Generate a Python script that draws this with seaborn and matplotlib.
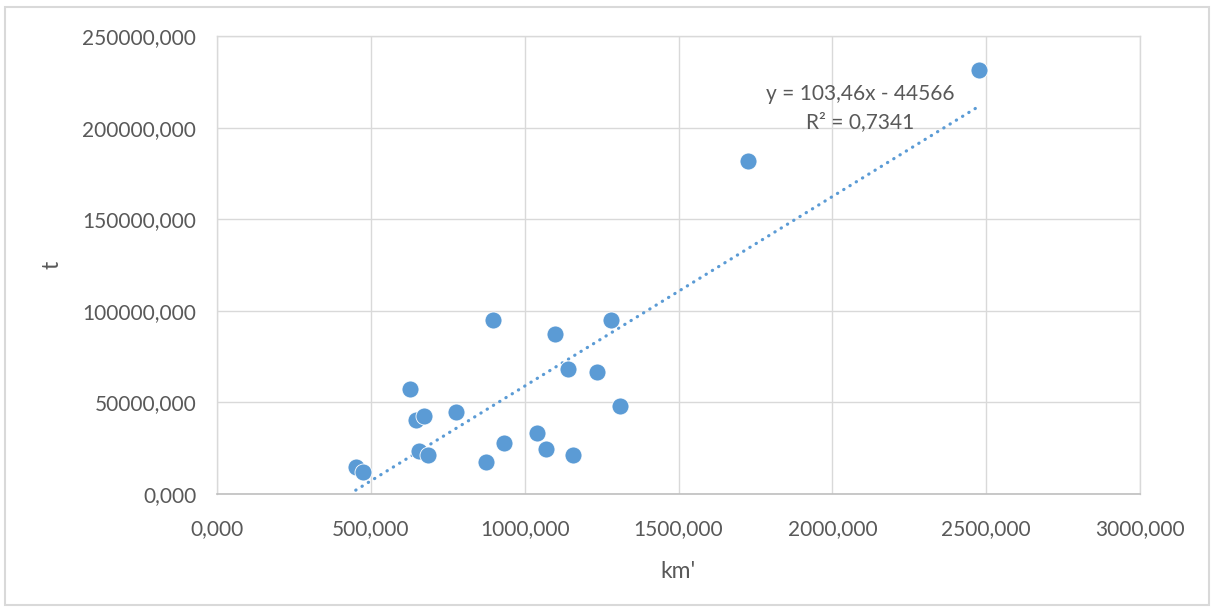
import matplotlib
matplotlib.use("Agg")
import matplotlib.pyplot as plt
import matplotlib.ticker as mticker
from matplotlib.patches import Rectangle
import numpy as np
import pandas as pd
import seaborn as sns

# ---- data ----
km = [451, 473, 627, 646, 674, 657, 685, 778, 898, 873, 932, 1039, 1069,
      1100, 1140, 1157, 1235, 1282, 1310, 1727, 2477]
t = [14600, 12200, 57400, 40600, 42800, 23600, 21400, 44600, 95000, 17700,
     27800, 33300, 24800, 87600, 68500, 21400, 66500, 95200, 48200, 181600, 231500]
slope = 103.46
intercept = -44566
r2_text = "0,7341"
eq_text = "y = 103,46x - 44566"
x_ticks = [0, 500, 1000, 1500, 2000, 2500, 3000]
y_ticks = [0, 50000, 100000, 150000, 200000, 250000]
x_label = "km'"
y_label = "t"

sns.set_theme(style="white")
plt.rcParams['font.family'] = ['Lato', 'DejaVu Sans']

TXT = "#595959"
BLUE = "#5b9bd5"
GRID = "#d9d9d9"

fig = plt.figure(figsize=(12.14, 6.10), dpi=100)
ax = fig.add_axes([217/1214, 116/610, (1140-217)/1214, (494-36)/610])

df = pd.DataFrame({"km": km, "t": t})
sns.scatterplot(data=df, x="km", y="t", ax=ax, s=150, color=BLUE,
                edgecolor="white", linewidth=0.6, zorder=3)

xfit = np.array([min(km), max(km)])
fit = pd.DataFrame({"x": xfit, "y": slope * xfit + intercept})
sns.lineplot(data=fit, x="x", y="y", ax=ax, color=BLUE, lw=2.3,
             linestyle=(0, (0.1, 2.2)), dash_capstyle="round", zorder=2)

ax.set_xlim(0, 3000)
ax.set_ylim(0, 250000)
ax.set_xticks(x_ticks)
ax.set_yticks(y_ticks)
fmt = mticker.FuncFormatter(lambda v, p: f"{v:.3f}".replace(".", ","))
ax.xaxis.set_major_formatter(fmt)
ax.yaxis.set_major_formatter(fmt)
ax.grid(True, color=GRID, lw=1.0)
ax.set_axisbelow(True)
for s in ["top", "right", "left"]:
    ax.spines[s].set_color(GRID)
    ax.spines[s].set_linewidth(1.0)
ax.spines["bottom"].set_color("#bfbfbf")
ax.spines["bottom"].set_linewidth(1.2)
ax.tick_params(axis="both", length=0, labelsize=15, labelcolor=TXT)
ax.tick_params(axis="x", pad=18)
ax.tick_params(axis="y", pad=15)
ax.set_xlabel(x_label, fontsize=16.5, color=TXT, labelpad=16)
ax.set_ylabel(y_label, fontsize=16.5, color=TXT, labelpad=14)

ax.text(860/1214, (610-94)/610, eq_text, transform=fig.transFigure,
        ha="center", va="center", fontsize=15, color=TXT)
ax.text(860/1214, (610-122)/610, "R² = " + r2_text, transform=fig.transFigure,
        ha="center", va="center", fontsize=15, color=TXT)

fig.patches.append(Rectangle((5/1214, 5/610), 1204/1214, 598/610,
                             transform=fig.transFigure, fill=False,
                             edgecolor="#d9d9d9", lw=1.5))

fig.savefig("out.png", dpi=100)
